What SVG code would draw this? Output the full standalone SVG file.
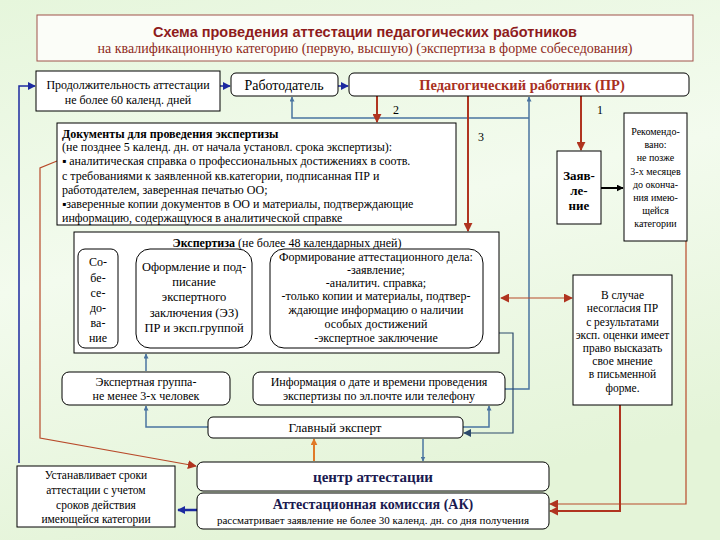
<svg xmlns="http://www.w3.org/2000/svg" width="720" height="540" viewBox="0 0 720 540">
<defs>
<linearGradient id="bg" x1="0" y1="0" x2="0.3" y2="1">
<stop offset="0" stop-color="#e6f6dc"/>
<stop offset="0.5" stop-color="#f3fbee"/>
<stop offset="1" stop-color="#e4f4d8"/>
</linearGradient>
<marker id="aBlue" viewBox="0 0 10 10" refX="9" refY="5" markerWidth="5" markerHeight="5" orient="auto-start-reverse" markerUnits="userSpaceOnUse"><path d="M0,0 L10,5 L0,10 z" fill="#4a74a0"/></marker>
<marker id="aNavy" viewBox="0 0 10 10" refX="9" refY="5" markerWidth="8" markerHeight="8" orient="auto-start-reverse" markerUnits="userSpaceOnUse"><path d="M0,0 L10,5 L0,10 z" fill="#1c2aa0"/></marker>
<marker id="aRed" viewBox="0 0 10 10" refX="9" refY="5" markerWidth="9" markerHeight="9" orient="auto-start-reverse" markerUnits="userSpaceOnUse"><path d="M0,0 L10,5 L0,10 z" fill="#b03420"/></marker>
<marker id="aOrange" viewBox="0 0 10 10" refX="9" refY="5" markerWidth="7" markerHeight="7" orient="auto-start-reverse" markerUnits="userSpaceOnUse"><path d="M0,0 L10,5 L0,10 z" fill="#e07a28"/></marker>
<marker id="aBlack" viewBox="0 0 10 10" refX="9" refY="5" markerWidth="7" markerHeight="7" orient="auto-start-reverse" markerUnits="userSpaceOnUse"><path d="M0,0 L10,5 L0,10 z" fill="#000"/></marker>
<marker id="aDark" viewBox="0 0 10 10" refX="9" refY="5" markerWidth="8" markerHeight="8" orient="auto-start-reverse" markerUnits="userSpaceOnUse"><path d="M0,0 L10,5 L0,10 z" fill="#2c4a6c"/></marker>
</defs>
<style>
.box{fill:#fff;stroke:#000;stroke-width:1}
.t{font-family:"Liberation Serif","Times New Roman",serif;font-size:12px;fill:#000}
.c{text-anchor:middle}
.b{font-weight:bold}
.red{fill:none;stroke:#b03420;stroke-width:2}
.redthin{fill:none;stroke:#b84a2a;stroke-width:1.2}
.blue{fill:none;stroke:#4a74a0;stroke-width:1.5}
.navy{fill:none;stroke:#1c2aa0;stroke-width:1.5}
</style>
<rect x="0" y="0" width="720" height="540" fill="url(#bg)"/>

<g id="title">
<rect x="37" y="15" width="656" height="46" fill="#fbfdf8" stroke="#a0524a" stroke-width="1"/>
<text x="365" y="37" text-anchor="middle" font-family="Liberation Sans, Arial, sans-serif" font-size="14.5" font-weight="bold" fill="#8e1c1c">Схема проведения аттестации педагогических работников</text>
<text x="365" y="53" text-anchor="middle" font-family="Liberation Serif, serif" font-size="14" fill="#8e2a1a">на квалификационную категорию (первую, высшую) (экспертиза в форме собеседования)</text>
</g>

<g id="connectors">
<path class="navy" d="M19,463 V86 H35" marker-end="url(#aNavy)"/>
<path class="navy" d="M220,86 H230" marker-end="url(#aNavy)"/>
<path class="navy" d="M338,86 H348" marker-end="url(#aNavy)"/>
<path class="blue" d="M505,389 H529 V97" stroke-width="2" marker-end="url(#aBlue)"/>
<path class="blue" d="M529,118 H292 V97" marker-end="url(#aBlue)"/>
<path class="red" d="M377,96 V122" marker-end="url(#aRed)"/>
<path class="red" d="M468,96 V231" marker-end="url(#aRed)"/>
<path class="red" d="M581,96 V150" marker-end="url(#aRed)"/>
<path d="M601,188 H623" stroke="#000" stroke-width="2" fill="none" marker-end="url(#aBlack)"/>
<path class="redthin" d="M501,298 H572" marker-start="url(#aRed)" marker-end="url(#aRed)"/>
<path d="M118,298 H136 M252,298 H270" stroke="#000" stroke-width="1"/>
<path class="blue" d="M146,371 V354" marker-end="url(#aBlue)"/>
<path d="M499,333 H513 V433 H464" fill="none" stroke="#2c4a6c" stroke-width="1.2" marker-end="url(#aDark)"/>
<path class="blue" d="M208,427 H146 V406" marker-end="url(#aBlue)"/>
<path class="blue" d="M463,427 H489 V406" marker-end="url(#aBlue)"/>
<path d="M314,461 V439" stroke="#e07a28" stroke-width="2" fill="none" marker-end="url(#aOrange)"/>
<path class="blue" d="M423,439 V461" marker-end="url(#aBlue)"/>
<path class="redthin" d="M57,161 L40,168 V438 L196,466" stroke-width="1.6" marker-end="url(#aRed)"/>
<path class="redthin" d="M686,241 V504 H550" marker-end="url(#aRed)"/>
<path class="red" d="M620,405 V511 H550" marker-end="url(#aRed)"/>
<path d="M197,510 H178" stroke="#1c2aa0" stroke-width="2.5" fill="none" marker-end="url(#aNavy)"/>
<text class="t c" x="396" y="114">2</text>
<text class="t c" x="481" y="141">3</text>
<text class="t c" x="600" y="114">1</text>
</g>

<g id="duration">
<rect class="box" x="36" y="71" width="184" height="40"/>
<text class="t c" x="128" y="89">Продолжительность аттестации</text>
<text class="t c" x="128" y="104">не более 60 календ. дней</text>
</g>

<g id="employer">
<rect class="box" x="231" y="73" width="107" height="23" rx="5"/>
<text class="t c" x="284" y="90" style="font-size:14px">Работодатель</text>
</g>

<g id="teacher">
<rect class="box" x="349" y="73" width="340" height="23" rx="5"/>
<text class="t c b" x="522" y="90" style="font-size:14.5px;fill:#a8301e">Педагогический работник (ПР)</text>
</g>

<g id="documents">
<rect class="box" x="57" y="123" width="399" height="102"/>
<text class="t b" x="62" y="138">Документы для проведения экспертизы</text>
<text class="t" x="62" y="151">(не позднее 5 календ. дн. от начала установл. срока экспертизы):</text>
<text class="t" x="62" y="165">▪ аналитическая справка о профессиональных достижениях в соотв.</text>
<text class="t" x="62" y="180">с требованиями к заявленной кв.категории, подписанная  ПР и</text>
<text class="t" x="62" y="194">работодателем,  заверенная печатью ОО;</text>
<text class="t" x="62" y="208">▪заверенные копии  документов в ОО и материалы, подтверждающие</text>
<text class="t" x="62" y="222">информацию, содержащуюся в аналитической справке</text>
</g>

<g id="application">
<rect class="box" x="557" y="151" width="44" height="73"/>
<text class="t c b" x="579" y="180" style="font-size:13px">Заяв-</text>
<text class="t c b" x="579" y="195" style="font-size:13px">ле-</text>
<text class="t c b" x="579" y="210" style="font-size:13px">ние</text>
</g>

<g id="recommended">
<rect class="box" x="624" y="113" width="63" height="128"/>
<text class="t c" x="655.5" y="135" style="font-size:10px">Рекомендо-</text>
<text class="t c" x="655.5" y="148" style="font-size:10px">вано:</text>
<text class="t c" x="655.5" y="161" style="font-size:10px">не позже</text>
<text class="t c" x="655.5" y="175" style="font-size:10px">3-х месяцев</text>
<text class="t c" x="655.5" y="188" style="font-size:10px">до оконча-</text>
<text class="t c" x="655.5" y="201" style="font-size:10px">ния имею-</text>
<text class="t c" x="655.5" y="214" style="font-size:10px">щейся</text>
<text class="t c" x="655.5" y="227" style="font-size:10px">категории</text>
</g>

<g id="expertise">
<rect class="box" x="74" y="232" width="425" height="121"/>
<text class="t c" x="287" y="247"><tspan font-weight="bold">Экспертиза</tspan> (не более 48  календарных дней)</text>
</g>

<g id="interview">
<rect class="box" x="78" y="249" width="40" height="99" rx="7"/>
<text class="t c" x="98" y="266">Со-</text>
<text class="t c" x="98" y="282">бе-</text>
<text class="t c" x="98" y="297">се-</text>
<text class="t c" x="98" y="312">до-</text>
<text class="t c" x="98" y="327">ва-</text>
<text class="t c" x="98" y="342">ние</text>
</g>

<g id="conclusion">
<rect class="box" x="136" y="249" width="116" height="99" rx="14"/>
<text class="t c" x="194" y="271" style="font-size:12.5px">Оформление и под-</text>
<text class="t c" x="194" y="286" style="font-size:12.5px">писание</text>
<text class="t c" x="194" y="301" style="font-size:12.5px">экспертного</text>
<text class="t c" x="194" y="317" style="font-size:12.5px">заключения (ЭЗ)</text>
<text class="t c" x="194" y="332" style="font-size:12.5px">ПР и эксп.группой</text>
</g>

<g id="case">
<rect class="box" x="270" y="249" width="213" height="99" rx="14"/>
<text class="t c" x="376" y="261">Формирование аттестационного дела:</text>
<text class="t c" x="376" y="274">-заявление;</text>
<text class="t c" x="376" y="287">-аналитич. справка;</text>
<text class="t c" x="376" y="300">-только копии и материалы, подтвер-</text>
<text class="t c" x="376" y="314">ждающие информацию о  наличии</text>
<text class="t c" x="376" y="328">особых достижений</text>
<text class="t c" x="376" y="342">-экспертное заключение</text>
</g>

<g id="disagree">
<rect class="box" x="573" y="275" width="99" height="130"/>
<text class="t c" x="622.5" y="299" style="font-size:11.5px">В случае</text>
<text class="t c" x="622.5" y="312" style="font-size:11.5px">несогласия ПР</text>
<text class="t c" x="622.5" y="326" style="font-size:11.5px">с результатами</text>
<text class="t c" x="622.5" y="339" style="font-size:11.5px">эксп. оценки имеет</text>
<text class="t c" x="622.5" y="352" style="font-size:11.5px">право высказать</text>
<text class="t c" x="622.5" y="365" style="font-size:11.5px">свое мнение</text>
<text class="t c" x="622.5" y="378" style="font-size:11.5px">в письменной</text>
<text class="t c" x="622.5" y="392" style="font-size:11.5px">форме.</text>
</g>

<g id="group">
<rect class="box" x="62" y="372" width="168" height="33" rx="7"/>
<text class="t c" x="146" y="386">Экспертная группа-</text>
<text class="t c" x="146" y="400">не менее 3-х человек</text>
</g>

<g id="info">
<rect class="box" x="253" y="372" width="252" height="33" rx="7"/>
<text class="t c" x="379" y="386">Информация о дате и времени проведения</text>
<text class="t c" x="379" y="400">экспертизы по эл.почте или телефону</text>
</g>

<g id="chief">
<rect class="box" x="208" y="417" width="255" height="21" rx="5"/>
<text class="t c" x="335" y="432" style="font-size:13px">Главный эксперт</text>
</g>

<g id="center">
<rect class="box" x="197" y="462" width="352" height="29" rx="6"/>
<text class="t c b" x="373" y="482" style="font-size:15px;fill:#1a1a50">центр аттестации</text>
</g>

<g id="commission">
<rect class="box" x="197" y="493" width="352" height="36" rx="6"/>
<text class="t c b" x="373" y="509" style="font-size:14px;fill:#1a1a50">Аттестационная комиссия (АК)</text>
<text class="t c" x="373" y="524" style="font-size:11px">рассматривает заявление не более 30 календ. дн. со дня  получения</text>
</g>

<g id="terms">
<rect class="box" x="17" y="466" width="158" height="61"/>
<text class="t c" x="96" y="479" style="font-size:11.5px">Устанавливает сроки</text>
<text class="t c" x="96" y="494" style="font-size:11.5px">аттестации с учетом</text>
<text class="t c" x="96" y="509" style="font-size:11.5px">сроков действия</text>
<text class="t c" x="96" y="523" style="font-size:11.5px">имеющейся категории</text>
</g>
</svg>
